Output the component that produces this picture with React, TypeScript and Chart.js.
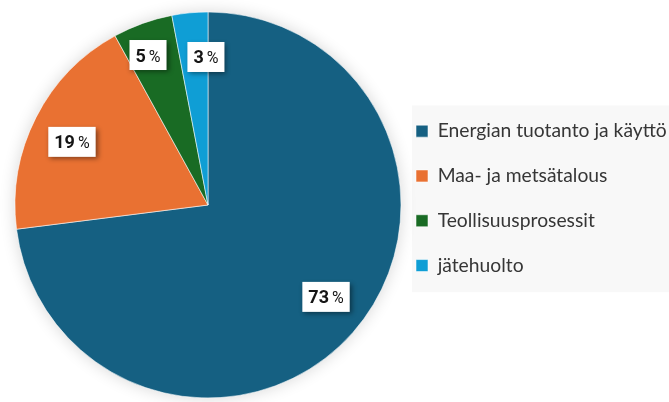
import { useEffect, useRef } from 'react';
import { Chart, registerables } from 'chart.js';

Chart.register(...registerables);

const categories = [
  'Energian tuotanto ja käyttö',
  'Maa- ja metsätalous',
  'Teollisuusprosessit',
  'jätehuolto',
];
const shares = [73, 19, 5, 3];
const sliceColors = ['#156082', '#E97132', '#196B24', '#0F9ED5'];

// label placement styling (fraction of radius, angle nudge in degrees)
const labelRadiusFraction = [0.775, 0.777, 0.837, 0.767];
const labelAngleNudge = [-3.5, -2.1, -2, 4.6];

const legendPanel = {
  id: 'legendPanel',
  beforeDraw(chart: any) {
    const lg = chart.legend;
    if (!lg || !lg.legendHitBoxes || !lg.legendHitBoxes.length) return;
    const hb = lg.legendHitBoxes;
    const first = hb[0];
    const last = hb[hb.length - 1];
    const ctx = chart.ctx;
    ctx.save();
    ctx.fillStyle = '#f8f8f8';
    const left = first.left - 4;
    const top = first.top - 16;
    const bottom = last.top + last.height + 17;
    ctx.fillRect(left, top, chart.width - left, bottom - top);
    ctx.restore();
  },
};

const pieShadow = {
  id: 'pieShadow',
  beforeDatasetsDraw(chart: any) {
    const meta = chart.getDatasetMeta(0);
    const arc = meta.data[0];
    if (!arc) return;
    const { x, y, outerRadius } = arc.getProps(['x', 'y', 'outerRadius'], true);
    const ctx = chart.ctx;
    ctx.save();
    ctx.shadowColor = 'rgba(0,0,0,0.16)';
    ctx.shadowBlur = 16;
    ctx.fillStyle = '#ffffff';
    ctx.beginPath();
    ctx.arc(x, y, outerRadius, 0, Math.PI * 2);
    ctx.fill();
    ctx.restore();
  },
};

const boxLabels = {
  id: 'boxLabels',
  afterDatasetsDraw(chart: any) {
    const meta = chart.getDatasetMeta(0);
    const ctx = chart.ctx;
    const values = chart.data.datasets[0].data as number[];
    meta.data.forEach((arc: any, i: number) => {
      const { x, y, startAngle, endAngle, outerRadius } = arc.getProps(
        ['x', 'y', 'startAngle', 'endAngle', 'outerRadius'],
        true
      );
      const mid = (startAngle + endAngle) / 2 + (labelAngleNudge[i] * Math.PI) / 180;
      const r = outerRadius * labelRadiusFraction[i];
      const cx = x + Math.cos(mid) * r;
      const cy = y + Math.sin(mid) * r;
      const num = String(values[i]);
      const numFont = 'bold 18px Roboto, "DejaVu Sans", sans-serif';
      const pctFont = '16px Roboto, "DejaVu Sans", sans-serif';
      ctx.save();
      ctx.font = numFont;
      const wNum = ctx.measureText(num).width;
      ctx.font = pctFont;
      const wSp = 3;
      const wPct = ctx.measureText('%').width;
      const tw = wNum + wSp + wPct;
      const bw = tw + 12;
      const bh = 30;
      ctx.shadowColor = 'rgba(0,0,0,0.45)';
      ctx.shadowBlur = 5;
      ctx.shadowOffsetX = 2;
      ctx.shadowOffsetY = 2;
      ctx.fillStyle = '#ffffff';
      ctx.fillRect(cx - bw / 2, cy - bh / 2, bw, bh);
      ctx.shadowColor = 'transparent';
      ctx.shadowBlur = 0;
      ctx.shadowOffsetX = 0;
      ctx.shadowOffsetY = 0;
      ctx.fillStyle = '#151515';
      ctx.textBaseline = 'alphabetic';
      ctx.textAlign = 'left';
      const baseline = cy + 6.5;
      const x0 = cx - tw / 2;
      ctx.font = numFont;
      ctx.fillText(num, x0, baseline);
      ctx.font = pctFont;
      ctx.fillText('%', x0 + wNum + wSp, baseline);
      ctx.restore();
    });
  },
};

export default function App() {
  const canvasRef = useRef<HTMLCanvasElement | null>(null);

  useEffect(() => {
    if (!canvasRef.current) return;
    const chart = new Chart(canvasRef.current, {
      type: 'pie',
      data: {
        labels: categories,
        datasets: [
          {
            data: shares,
            backgroundColor: sliceColors,
            borderColor: 'rgba(255,255,255,0.55)',
            borderWidth: 1,
            radius: 193,
            clip: false as any,
          } as any,
        ],
      },
      options: {
        animation: false,
        responsive: true,
        maintainAspectRatio: false,
        layout: { padding: { left: 25.5, top: 96, right: 0, bottom: 88 } },
        plugins: {
          tooltip: { enabled: false },
          legend: {
            position: 'right',
            align: 'start',
            maxWidth: 278.5,
            labels: {
              boxWidth: 12,
              boxHeight: 12,
              padding: 25.5,
              color: '#363636',
              font: { family: 'Lato, "Noto Sans", sans-serif', size: 19.3 },
            },
          },
        },
      },
      plugins: [legendPanel, pieShadow, boxLabels],
    });
    return () => chart.destroy();
  }, []);

  return (
    <div
      style={{
        position: 'fixed',
        left: 0,
        top: 0,
        width: 669,
        height: 402,
        background: '#ffffff',
      }}
    >
      <canvas ref={canvasRef} />
    </div>
  );
}
